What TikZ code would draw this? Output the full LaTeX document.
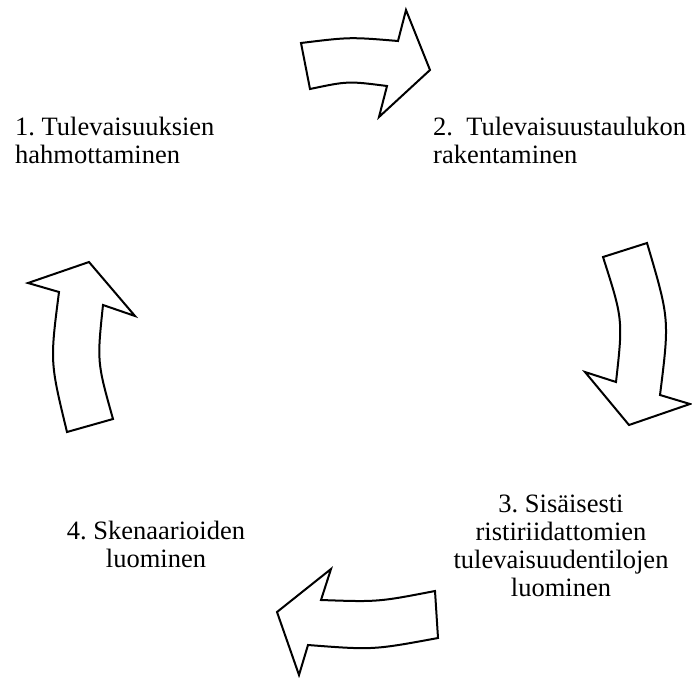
\documentclass[tikz,border=0pt]{standalone}
\usepackage{fontspec}
\setmainfont{Liberation Serif}
\begin{document}
\frenchspacing
\begin{tikzpicture}[x=1pt,y=-1pt,
  cyclearrow/.style={draw=black,line width=2pt,line join=miter,fill=white},
  lbl/.style={inner sep=0pt,font=\fontsize{26.5}{28}\selectfont}]
\useasboundingbox (0,0) rectangle (692,677);
% arrow 1 (top, pointing right)
\draw[cyclearrow] (301,43) .. controls (350,37) .. (398,41) -- (406,10) -- (430,70)
  -- (379,117) -- (387,86) .. controls (348,81) .. (310,89) -- cycle;
% arrow 2 (right, pointing down)
\draw[cyclearrow] (647,243) .. controls (669.5,319) .. (660,395) -- (690,404) -- (629,425)
  -- (585,372) -- (616,382) .. controls (623,319.5) .. (603,257) -- cycle;
% arrow 3 (bottom, pointing left)
\draw[cyclearrow] (435,591) .. controls (378,602) .. (321,600) -- (331,569) -- (277,612)
  -- (299,675) -- (308,645) .. controls (373,650) .. (438,638) -- cycle;
% arrow 4 (left, pointing up)
\draw[cyclearrow] (67,432) .. controls (50,362) .. (59,292) -- (28,283) -- (89,262)
  -- (135,316) -- (103,305) .. controls (97,362) .. (113,419) -- cycle;
% labels (base anchor = baseline of the last line)
\node[lbl,anchor=base west,align=left] (l1) at (15,163) {1. Tulevaisuuksien\\hahmottaminen};
\node[lbl,anchor=base west,align=left] (l2) at (433,163) {2.\ \ Tulevaisuustaulukon\\rakentaminen};
\node[lbl,anchor=base,align=center] (l3) at (561,596) {3. Sisäisesti\\ristiriidattomien\\tulevaisuudentilojen\\luominen};
\node[lbl,anchor=base,align=center] (l4) at (156,567) {4. Skenaarioiden\\luominen};
\end{tikzpicture}
\end{document}
